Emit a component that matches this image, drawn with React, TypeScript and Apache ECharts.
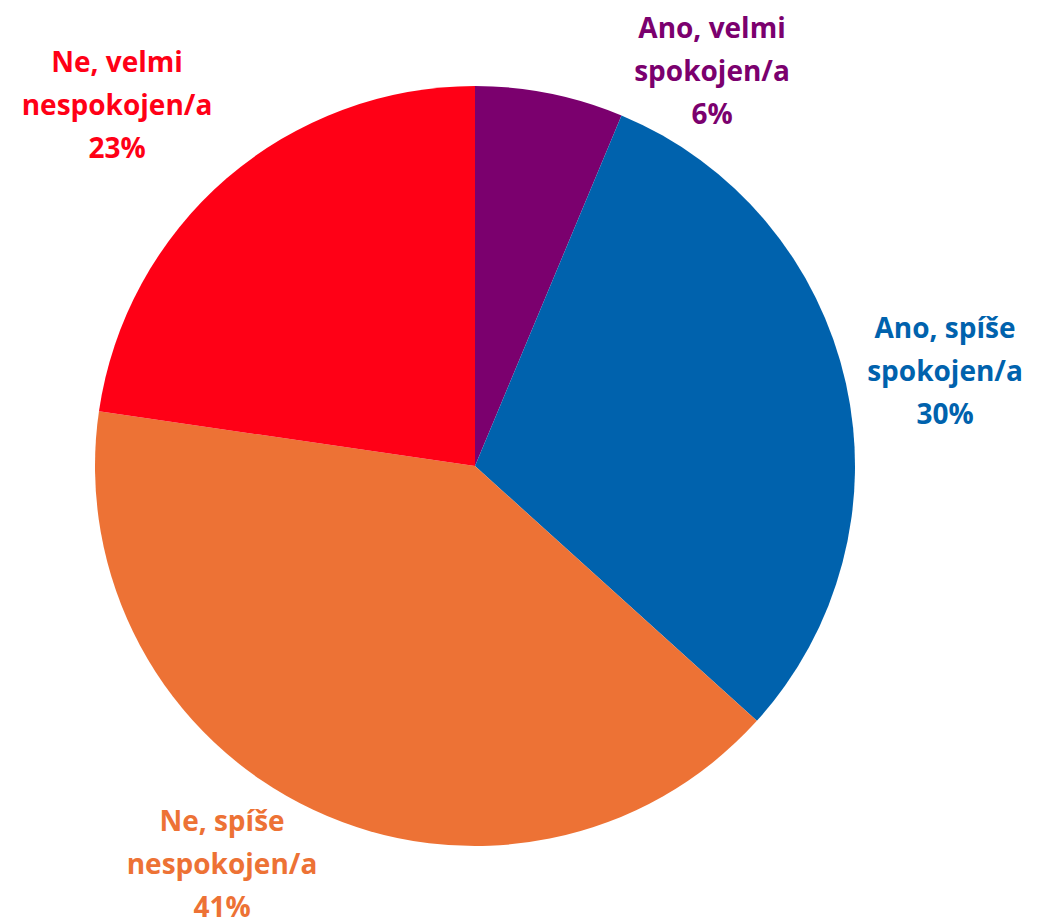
import React, { useEffect, useRef } from "react";
import * as echarts from "echarts";

const categories = [
  "Ano, velmi\nspokojen/a",
  "Ano, spíše\nspokojen/a",
  "Ne, spíše\nnespokojen/a",
  "Ne, velmi\nnespokojen/a",
];
const values = [6.3, 30.4, 40.6, 22.7];
const colors = ["#7B006E", "#0062AD", "#ED7235", "#FF0016"];
const labelPositions = [
  [712, 70],
  [945, 370],
  [222, 863],
  [117, 104],
];

export default function App() {
  const ref = useRef<HTMLDivElement>(null);
  useEffect(() => {
    document.body.style.margin = "0";
    const chart = echarts.init(ref.current!, null, { renderer: "svg" });
    chart.setOption({
      animation: false,
      backgroundColor: "#ffffff",
      series: [
        {
          type: "pie",
          center: [475, 466],
          radius: [0, 380],
          startAngle: 90,
          clockwise: true,
          data: categories.map((c, i) => ({
            name: c,
            value: values[i],
            itemStyle: { color: colors[i] },
            label: { color: colors[i] },
          })),
          label: {
            show: true,
            position: "outside",
            formatter: (p: any) => `${p.name}\n${Math.round(p.percent)}%`,
            fontFamily: "Open Sans",
            fontWeight: "bold",
            fontSize: 28,
            lineHeight: 43,
            align: "center",
            overflow: "none",
            width: 400,
          },
          labelLine: { show: false },
          labelLayout: (params: any) => {
            const pos = labelPositions[params.dataIndex];
            return { x: pos[0], y: pos[1], align: "center", verticalAlign: "middle" };
          },
          emphasis: { disabled: true },
        },
      ],
    });
    return () => chart.dispose();
  }, []);
  return <div ref={ref} style={{ width: 1039, height: 921 }} />;
}
